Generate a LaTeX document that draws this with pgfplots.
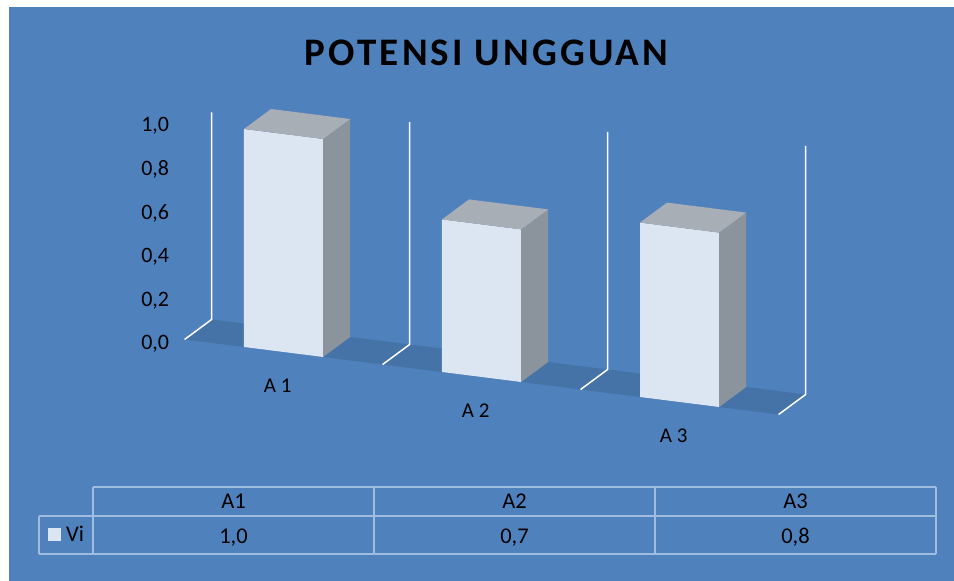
\documentclass[border=0pt]{standalone}
\usepackage{fontspec}
\setmainfont{Carlito}
\newfontfamily\titlefont[LetterSpace=8]{Carlito}
\usepackage{pgfplots}
\pgfplotsset{compat=1.18}
\usetikzlibrary{backgrounds}

\definecolor{chartbg}{RGB}{79,129,189}
\definecolor{floorc}{RGB}{69,114,167}
\definecolor{barfront}{RGB}{220,230,242}
\definecolor{barside}{RGB}{139,148,157}
\definecolor{bartop}{RGB}{167,174,181}
\definecolor{tablec}{RGB}{160,188,224}

\begin{document}
\begin{tikzpicture}
\begin{axis}[
  x={(198pt,-25pt)}, y={(27pt,20pt)}, z={(0pt,218pt)},
  xmin=0.5, xmax=3.5, ymin=0, ymax=1, zmin=0, zmax=1,
  clip=false,
  axis line style={draw=none},
  major tick length=0pt,
  xtick={1,2,3}, xticklabels={A 1,A 2,A 3},
  ytick=\empty,
  ztick={0,0.2,0.4,0.6,0.8,1},
  tick label style={text=black},
  xticklabel style={font=\fontsize{21}{23}\selectfont, yshift=-22pt},
  zticklabel style={font=\fontsize{22}{24}\selectfont, xshift=-12pt},
  /pgf/number format/fixed,
  /pgf/number format/fixed zerofill,
  /pgf/number format/precision=1,
  /pgf/number format/use comma,
  /pgf/number format/assume math mode=true,
]
\coordinate (O) at (axis cs:0,0,0);

% floor
\addplot3[fill=floorc, draw=none] coordinates {(0.5,0,0) (3.5,0,0) (3.5,1,0) (0.5,1,0)} -- cycle;

% category gridlines: along the floor, then up the back wall
\addplot3[white, line width=1.5pt] coordinates {(0.5,0,0) (0.5,1,0) (0.5,1,0.95)};
\addplot3[white, line width=1.5pt] coordinates {(1.5,0,0) (1.5,1,0) (1.5,1,1.02)};
\addplot3[white, line width=1.5pt] coordinates {(2.5,0,0) (2.5,1,0) (2.5,1,1.09)};
\addplot3[white, line width=1.5pt] coordinates {(3.5,0,0) (3.5,1,0) (3.5,1,1.14)};

% A1 = 1.0
\addplot3[fill=barfront, draw=none] coordinates {(0.8,0,0) (1.2,0,0) (1.2,0,1.0) (0.8,0,1.0)} -- cycle;
\addplot3[fill=barside, draw=none] coordinates {(1.2,0,0) (1.2,1,0) (1.2,1,1.0) (1.2,0,1.0)} -- cycle;
\addplot3[fill=bartop, draw=none] coordinates {(0.8,0,1.0) (1.2,0,1.0) (1.2,1,1.0) (0.8,1,1.0)} -- cycle;

% A2 = 0.7
\addplot3[fill=barfront, draw=none] coordinates {(1.8,0,0) (2.2,0,0) (2.2,0,0.7) (1.8,0,0.7)} -- cycle;
\addplot3[fill=barside, draw=none] coordinates {(2.2,0,0) (2.2,1,0) (2.2,1,0.7) (2.2,0,0.7)} -- cycle;
\addplot3[fill=bartop, draw=none] coordinates {(1.8,0,0.7) (2.2,0,0.7) (2.2,1,0.7) (1.8,1,0.7)} -- cycle;

% A3 = 0.8
\addplot3[fill=barfront, draw=none] coordinates {(2.8,0,0) (3.2,0,0) (3.2,0,0.8) (2.8,0,0.8)} -- cycle;
\addplot3[fill=barside, draw=none] coordinates {(3.2,0,0) (3.2,1,0) (3.2,1,0.8) (3.2,0,0.8)} -- cycle;
\addplot3[fill=bartop, draw=none] coordinates {(2.8,0,0.8) (3.2,0,0.8) (3.2,1,0.8) (2.8,1,0.8)} -- cycle;
\end{axis}

% frame, title and data table in pixel-like units (y downwards)
\begin{scope}[shift={(O)}, x=1pt, y=-1pt, shift={(-85.6,-327)}]
  \begin{scope}[on background layer]
    \fill[chartbg] (9,7) rectangle (954,581);
  \end{scope}
  \node[font=\titlefont\bfseries\fontsize{39}{42}\selectfont, inner sep=0pt] at (486.5,52.5) {POTENSI UNGGUAN};

  \draw[tablec, line width=1.3pt]
    (93,487) -- (936,487)
    (39,516) -- (936,516)
    (39,554) -- (936,554)
    (93,487) -- (93,554)
    (374,487) -- (374,554)
    (655,487) -- (655,554)
    (936,487) -- (936,554)
    (39,516) -- (39,554);
  \begin{scope}[every node/.style={font=\fontsize{22.5}{24}\selectfont, anchor=base, inner sep=0pt}]
    \node at (233.5,509) {A1};
    \node at (514.5,509) {A2};
    \node at (795.5,509) {A3};
    \node at (233.5,543) {1,0};
    \node at (514.5,543) {0,7};
    \node at (795.5,543) {0,8};
    \node[anchor=base west] at (66,542) {Vi};
  \end{scope}
  \fill[barfront] (48.5,528.5) rectangle (61.5,541.5);

  \pgfresetboundingbox
  \path[use as bounding box] (0,0) rectangle (954,581);
\end{scope}
\end{tikzpicture}
\end{document}
